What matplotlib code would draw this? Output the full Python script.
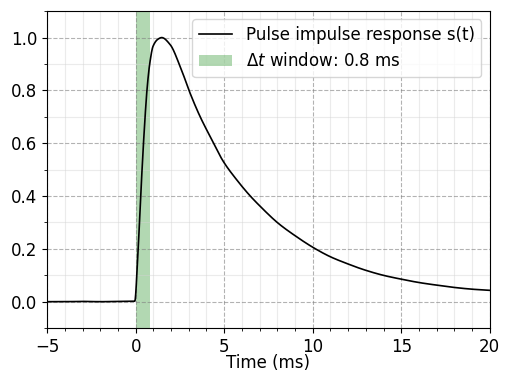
import numpy as np
import matplotlib
matplotlib.use('Agg')
import matplotlib.pyplot as plt
from matplotlib.ticker import MultipleLocator

# sampled pulse response (time in ms, normalised amplitude)
t_ms = [-5.0, -4.0, -3.0, -2.0, -1.0, -0.3, -0.05, 0.10, 0.23, 0.36, 0.51,
        0.64, 0.80, 0.98, 1.26, 1.47, 1.94, 2.51, 3.07, 3.63, 4.2, 4.95,
        5.7, 6.46, 7.02, 8.05, 9.0, 10.03, 11.0, 11.91, 12.85, 13.98, 15.02,
        16.05, 17.08, 18.12, 19.06, 20.0]
s_t = [0.0, 0.0, 0.001, 0.0, 0.001, 0.001, 0.002, 0.146, 0.323, 0.50, 0.677,
       0.803, 0.904, 0.967, 0.994, 1.0, 0.974, 0.891, 0.79, 0.702, 0.626,
       0.531, 0.462, 0.401, 0.362, 0.297, 0.250, 0.205, 0.170, 0.145, 0.122,
       0.100, 0.085, 0.072, 0.062, 0.053, 0.047, 0.043]
dt_window = 0.8


def pchip(x, y, xn):
    # monotone cubic (Fritsch-Carlson) through the samples
    x = np.asarray(x, float)
    y = np.asarray(y, float)
    h = np.diff(x)
    d = np.diff(y) / h
    m = np.zeros_like(y)
    for k in range(1, len(x) - 1):
        if d[k - 1] * d[k] > 0:
            w1 = 2 * h[k] + h[k - 1]
            w2 = h[k] + 2 * h[k - 1]
            m[k] = (w1 + w2) / (w1 / d[k - 1] + w2 / d[k])
    m[0], m[-1] = d[0], d[-1]
    i = np.clip(np.searchsorted(x, xn) - 1, 0, len(h) - 1)
    s = (xn - x[i]) / h[i]
    h00 = 2 * s**3 - 3 * s**2 + 1
    h10 = s**3 - 2 * s**2 + s
    h01 = -2 * s**3 + 3 * s**2
    h11 = s**3 - s**2
    return h00 * y[i] + h10 * h[i] * m[i] + h01 * y[i + 1] + h11 * h[i] * m[i + 1]


tt = np.linspace(t_ms[0], t_ms[-1], 3000)
ss = pchip(t_ms, s_t, tt)

fig, ax = plt.subplots(figsize=(5.07, 3.72), dpi=100)
fig.subplots_adjust(left=0.093, right=0.966, top=0.970, bottom=0.118)

ax.plot(tt, ss, color='black', linewidth=1.2, label='Pulse impulse response s(t)')
ax.axvspan(0, dt_window, color='green', alpha=0.3, linewidth=0,
           label=f'$\\Delta t$ window: {dt_window} ms')

ax.set_xlim(-5, 20)
ax.set_ylim(-0.1, 1.1)
ax.xaxis.set_major_locator(MultipleLocator(5))
ax.xaxis.set_minor_locator(MultipleLocator(1))
ax.yaxis.set_major_locator(MultipleLocator(0.2))
ax.yaxis.set_minor_locator(MultipleLocator(0.1))
ax.grid(which='major', linestyle='--', color='gray', alpha=0.6, linewidth=0.8)
ax.grid(which='minor', linestyle='-', color='lightgray', alpha=0.45, linewidth=0.8)
ax.set_xlabel('Time (ms)', fontsize=12, labelpad=-1)
ax.tick_params(labelsize=12)
ax.legend(loc='upper right', fontsize=12)

fig.savefig('out.png', dpi=100)
